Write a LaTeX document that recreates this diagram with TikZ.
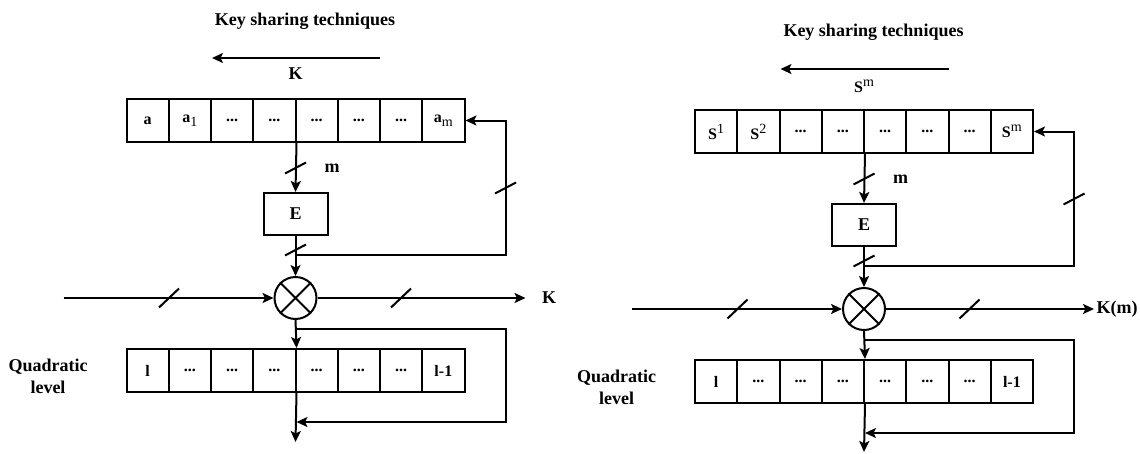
\documentclass[tikz,border=0pt]{standalone}
\usepackage{fontspec}
\setmainfont{Liberation Serif}
\usetikzlibrary{arrows.meta}
\newcommand{\lbl}{\bfseries\fontsize{18}{22}\selectfont}
\newcommand{\cellfont}{\bfseries\fontsize{16}{18}\selectfont}
\newcommand{\subtx}[1]{\raisebox{-4pt}{\mdseries\fontsize{14}{14}\selectfont #1}}
\newcommand{\suptx}[1]{\raisebox{6pt}{\mdseries\fontsize{14}{14}\selectfont #1}}
\newcommand{\ddd}{...}
\begin{document}
\begin{tikzpicture}[x=1pt,y=-1pt,line width=2pt,
  every node/.style={font=\lbl,inner sep=0pt},
  arr/.style={-{Stealth[length=11pt,width=10pt,inset=2.5pt]}},
  cell/.style={draw,minimum width=42.25pt,minimum height=43pt,font=\cellfont},
  ebox/.style={draw,minimum width=64pt,minimum height=42pt},
  mult/.style={draw,circle,minimum size=42pt},
  tick/.style={line width=2pt}]
\useasboundingbox (0,0) rectangle (1140,453);

% ---------------- left diagram ----------------
\begin{scope}[name prefix=L-]
\node (title) at (305,21) {Key sharing techniques};
\coordinate (ka) at (380,58); \coordinate (kb) at (212,58);
\draw[arr] (ka) -- (kb);
\node (klab) at (295.5,74) {K};
\foreach \i/\t in {1/a,2/{a\subtx{1}},3/\ddd,4/\ddd,5/\ddd,6/\ddd,7/\ddd,8/{a\subtx{m}}}
  \node[cell] (t\i) at ({126.5+42.25*(\i-0.5)},120.5) {\t};
\node[ebox] (E) at (295.5,214) {E};
\draw[arr] (t4.south east) -- (E.north);
\draw[tick] (285,173.5) -- (306,162.5);
\node (m) at (332,168) {m};
\node[mult] (X) at (295.5,298) {};
\draw (X.north west) -- (X.south east) (X.north east) -- (X.south west);
\draw[arr] (E.south) -- (X.north);
\draw[tick] (285,255.5) -- (306,244.5);
\coordinate (fb) at (295.5,255); \coordinate (fbr) at (505.5,255);
\draw[arr] (fb) -- (fbr) |- (t8.east);
\draw[tick] (495,193.5) -- (516,182.5);
\coordinate (in) at (63.5,298);
\draw[arr] (in) -- (X.west);
\draw[tick] (159,307.5) -- (179,288.5);
\coordinate (out) at (525.5,298);
\draw[arr] (X.east) -- (out);
\draw[tick] (391,307.5) -- (411,288.5);
\node[anchor=west] (kout) at (541,298) {K};
\foreach \i/\t in {1/l,2/\ddd,3/\ddd,4/\ddd,5/\ddd,6/\ddd,7/\ddd,8/l-1}
  \node[cell] (b\i) at ({126.5+42.25*(\i-0.5)},370.5) {\t};
\draw[arr] (X.south) -- (b4.north east);
\coordinate (br) at (295.5,329); \coordinate (brr) at (505.5,329);
\coordinate (lb) at (505.5,422); \coordinate (lt) at (296.5,422);
\draw[arr] (br) -- (brr) -- (lb) -- (lt);
\coordinate (end) at (295.5,442);
\draw[arr] (b4.south east) -- (end);
\node[align=center] (ql) at (48,376) {Quadratic\\level};
\end{scope}

% ---------------- right diagram ----------------
\begin{scope}[shift={(568.5,11)},name prefix=R-]
\node (title) at (305,21) {Key sharing techniques};
\coordinate (ka) at (380,58); \coordinate (kb) at (212,58);
\draw[arr] (ka) -- (kb);
\node[font=\cellfont] (klab) at (295.5,75) {S\suptx{m}};
\foreach \i/\t in {1/{S\suptx{1}},2/{S\suptx{2}},3/\ddd,4/\ddd,5/\ddd,6/\ddd,7/\ddd,8/{S\suptx{m}}}
  \node[cell] (t\i) at ({126.5+42.25*(\i-0.5)},120.5) {\t};
\node[ebox] (E) at (295.5,214) {E};
\draw[arr] (t4.south east) -- (E.north);
\draw[tick] (285,173.5) -- (306,162.5);
\node (m) at (332,168) {m};
\node[mult] (X) at (295.5,298) {};
\draw (X.north west) -- (X.south east) (X.north east) -- (X.south west);
\draw[arr] (E.south) -- (X.north);
\draw[tick] (285,255.5) -- (306,244.5);
\coordinate (fb) at (295.5,255); \coordinate (fbr) at (505.5,255);
\draw[arr] (fb) -- (fbr) |- (t8.east);
\draw[tick] (495,193.5) -- (516,182.5);
\coordinate (in) at (63.5,298);
\draw[arr] (in) -- (X.west);
\draw[tick] (159,307.5) -- (179,288.5);
\coordinate (out) at (525.5,298);
\draw[arr] (X.east) -- (out);
\draw[tick] (391,307.5) -- (411,288.5);
\node[anchor=west] (kout) at (527,298) {K(m)};
\foreach \i/\t in {1/l,2/\ddd,3/\ddd,4/\ddd,5/\ddd,6/\ddd,7/\ddd,8/l-1}
  \node[cell] (b\i) at ({126.5+42.25*(\i-0.5)},370.5) {\t};
\draw[arr] (X.south) -- (b4.north east);
\coordinate (br) at (295.5,329); \coordinate (brr) at (505.5,329);
\coordinate (lb) at (505.5,422); \coordinate (lt) at (296.5,422);
\draw[arr] (br) -- (brr) -- (lb) -- (lt);
\coordinate (end) at (295.5,441);
\draw[arr] (b4.south east) -- (end);
\node[align=center] (ql) at (48,376) {Quadratic\\level};
\end{scope}
\end{tikzpicture}
\end{document}
